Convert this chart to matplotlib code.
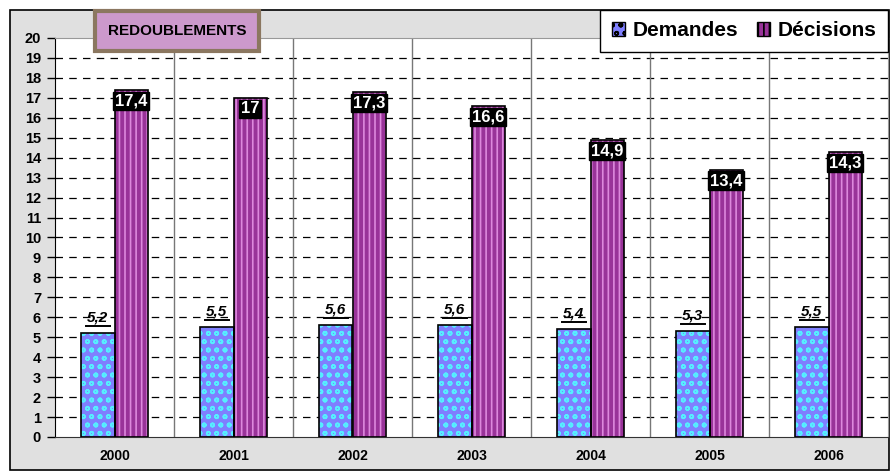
import matplotlib
matplotlib.use("Agg")
import matplotlib.pyplot as plt
import numpy as np
from matplotlib.patches import Rectangle, Patch

plt.rcParams['font.family'] = ['Liberation Sans', 'DejaVu Sans']
plt.rcParams['hatch.linewidth'] = 1.2

years = ["2000", "2001", "2002", "2003", "2004", "2005", "2006"]
demandes = [5.2, 5.5, 5.6, 5.6, 5.4, 5.3, 5.5]
decisions = [17.4, 17, 17.3, 16.6, 14.9, 13.4, 14.3]
dem_labels = ["5,2", "5,5", "5,6", "5,6", "5,4", "5,3", "5,5"]
dec_labels = ["17,4", "17", "17,3", "16,6", "14,9", "13,4", "14,3"]

fig = plt.figure(figsize=(8.9, 4.74), dpi=100)
fig.patch.set_facecolor('white')
fig.add_artist(Rectangle((10/890, 4/474), 879/890, 460/474, transform=fig.transFigure,
                         facecolor='#e0e0e0', edgecolor='black', linewidth=1.2, zorder=0))

ax = fig.add_axes([55/890, 37/474, 833/890, 399/474])
ax.set_facecolor('white')

x = np.arange(len(years))
w = 0.28
dem_x = x - w/2
dec_x = x + w/2

# Demandes: blue with cyan pattern
ax.bar(dem_x, demandes, w, color='#7f7fff', edgecolor='#55eeff', hatch='oo', linewidth=0, zorder=3)
ax.bar(dem_x, demandes, w, fill=False, edgecolor='black', linewidth=1.2, zorder=4)
# Décisions: purple with vertical stripes
ax.bar(dec_x, decisions, w, color='#993399', edgecolor='#dd88dd', hatch='|||', linewidth=0, zorder=3)
ax.bar(dec_x, decisions, w, fill=False, edgecolor='black', linewidth=1.2, zorder=4)

ax.set_xlim(-0.5, len(years) - 0.5)
ax.set_ylim(0, 20)
ax.set_yticks(range(0, 21))
ax.set_xticks(x)
ax.set_xticklabels(years, fontsize=10, fontweight='bold')
ax.tick_params(axis='x', length=0, pad=9)
ax.tick_params(axis='y', length=6, direction='out', labelsize=10.5, width=1, pad=4)
for lab in ax.get_yticklabels():
    lab.set_fontweight('bold')

for yv in range(1, 20):
    ax.axhline(yv, color='black', linestyle=(0, (6, 5)), linewidth=0.9, zorder=1)
for xv in np.arange(0.5, len(years) - 0.5, 1.0):
    ax.axvline(xv, color='#777777', linewidth=1.0, zorder=1)

for s in ['top', 'right']:
    ax.spines[s].set_color('#999999')
ax.spines['left'].set_color('black')
ax.spines['bottom'].set_color('#333333')

for xi, v, t in zip(dem_x, demandes, dem_labels):
    ax.text(xi, v + 0.6, t, ha='center', va='baseline', fontsize=11,
            fontweight='bold', fontstyle='italic', zorder=6)
    ax.plot([xi - 0.1, xi + 0.1], [v + 0.36, v + 0.36], color='black', linewidth=1.4, zorder=6)

for xi, v, t in zip(dec_x, decisions, dec_labels):
    ax.text(xi, v - 0.55, t, ha='center', va='center', fontsize=12,
            fontweight='bold', color='white', zorder=6,
            bbox=dict(boxstyle='square,pad=0.1', facecolor='black', edgecolor='black'))

fig.text(177/890, 1 - 31/474, "REDOUBLEMENTS", ha='center', va='center', fontsize=11,
         fontweight='bold',
         bbox=dict(boxstyle='square,pad=0.85', facecolor='#cc99cc', edgecolor='#8b7760', linewidth=3))

handles = [Patch(facecolor='#7f7fff', edgecolor='black', hatch='oo', label='Demandes'),
           Patch(facecolor='#993399', edgecolor='black', hatch='|||', label='Décisions')]
leg = fig.legend(handles=handles, loc='upper right', bbox_to_anchor=(888/890, 1 - 10/474),
                 borderaxespad=0.0,
                 ncol=2, frameon=True, fancybox=False, borderpad=0.55,
                 handlelength=0.65, handleheight=0.65, handletextpad=0.35, columnspacing=0.9,
                 prop={'weight': 'bold', 'size': 15})
leg.get_frame().set_edgecolor('black')
leg.get_frame().set_linewidth(1.0)
leg.get_frame().set_alpha(1)

fig.savefig('out.png', dpi=100)
